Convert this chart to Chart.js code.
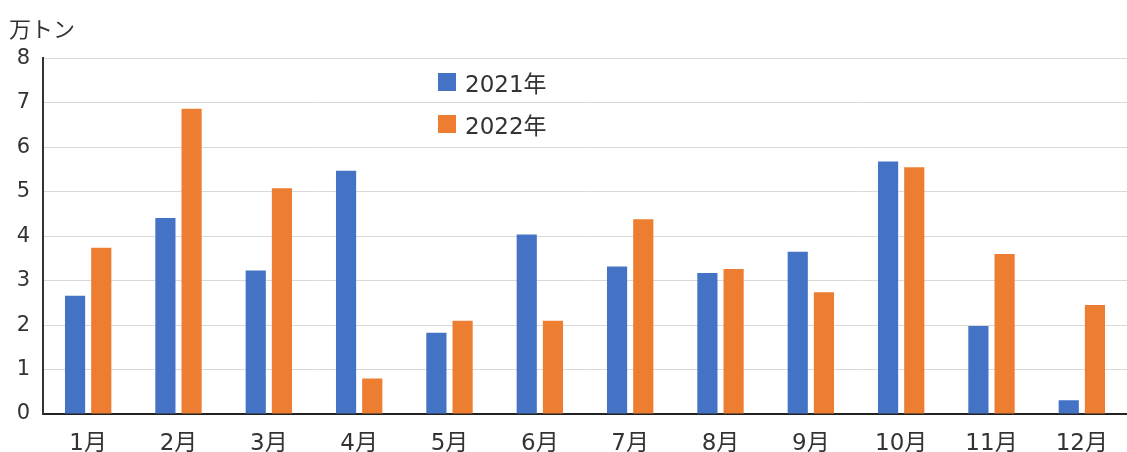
<!DOCTYPE html>
<html>
<head>
    <script src="https://cdn.jsdelivr.net/npm/chart.js@4.4.0/dist/chart.umd.min.js"></script>
    <style>
        body {
            margin: 0;
            background: #fff;
            font-family: "DejaVu Sans", "Noto Sans CJK JP", sans-serif;
        }
        .wrap {
            position: relative;
            width: 1127px;
            height: 452px;
        }
        #legend {
            position: absolute;
            left: 438px;
            top: 68px;
            font-size: 23px;
            color: #333;
        }
        #legend .item {
            display: flex;
            align-items: center;
            height: 28px;
            margin-bottom: 14px;
        }
        #legend .box {
            width: 18px;
            height: 18px;
            margin-right: 9px;
        }
    </style>
</head>
<body>
    <div class="wrap">
        <canvas id="chart" width="1127" height="452"></canvas>
        <div id="legend"></div>
    </div>

    <script>
        // データ（万トン）
        const months = ['1月', '2月', '3月', '4月', '5月', '6月', '7月', '8月', '9月', '10月', '11月', '12月'];
        const seriesNames = ['2021年', '2022年'];
        const values2021 = [2.66, 4.41, 3.23, 5.47, 1.83, 4.04, 3.32, 3.17, 3.65, 5.68, 1.98, 0.31];
        const values2022 = [3.74, 6.87, 5.08, 0.80, 2.10, 2.10, 4.38, 3.26, 2.74, 5.55, 3.60, 2.45];
        const yTicks = [0, 1, 2, 3, 4, 5, 6, 7, 8];
        const colors = ['#4472C4', '#ED7D31'];

        const fontFamily = '"DejaVu Sans", "Noto Sans CJK JP", sans-serif';

        const chart = new Chart(document.getElementById('chart'), {
            type: 'bar',
            data: {
                labels: months,
                datasets: [
                    { label: seriesNames[0], data: values2021, backgroundColor: colors[0] },
                    { label: seriesNames[1], data: values2022, backgroundColor: colors[1] }
                ]
            },
            options: {
                responsive: false,
                animation: false,
                layout: { padding: { left: 9, right: 0, top: 0, bottom: 0 } },
                datasets: {
                    bar: { categoryPercentage: 0.58, barPercentage: 0.77 }
                },
                plugins: {
                    legend: { display: false },
                    tooltip: { enabled: false },
                    title: {
                        display: true,
                        text: '万トン',
                        align: 'start',
                        color: '#333',
                        font: { family: fontFamily, size: 22, weight: 'normal' },
                        padding: { top: 18, bottom: 14 }
                    }
                },
                scales: {
                    x: {
                        afterFit: (scale) => { scale.height = 38; },
                        grid: { display: false, drawTicks: false },
                        border: { display: true, color: '#222', width: 2 },
                        ticks: {
                            color: '#333',
                            padding: 16,
                            font: { family: fontFamily, size: 23 }
                        }
                    },
                    y: {
                        min: 0,
                        max: 8,
                        afterFit: (scale) => { scale.width = 34; },
                        afterBuildTicks: (scale) => {
                            scale.ticks = yTicks.map(v => ({ value: v }));
                        },
                        grid: { color: '#d9d9d9', drawTicks: false },
                        border: { display: true, color: '#333', width: 2 },
                        ticks: {
                            color: '#333',
                            padding: 13,
                            font: { family: fontFamily, size: 21 }
                        }
                    }
                }
            }
        });

        // 凡例（グラフ内に配置）
        const legend = document.getElementById('legend');
        chart.data.datasets.forEach(ds => {
            const item = document.createElement('div');
            item.className = 'item';
            item.innerHTML = '<span class="box" style="background:' + ds.backgroundColor + '"></span>' + ds.label;
            legend.appendChild(item);
        });
    </script>
</body>
</html>
